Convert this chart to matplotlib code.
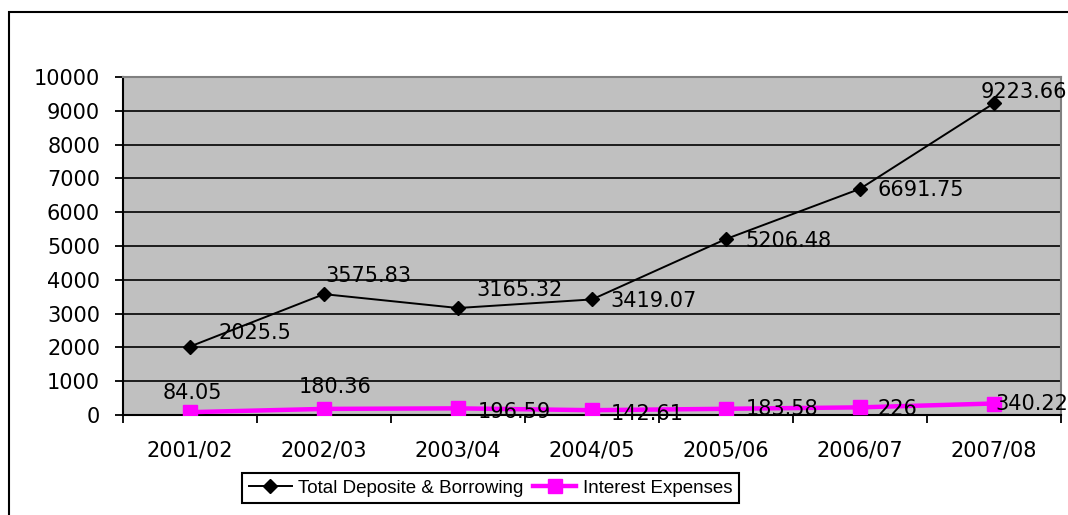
import numpy as np
import matplotlib
matplotlib.use("Agg")
import matplotlib.pyplot as plt
from matplotlib.patches import Rectangle

# data
years = ["2001/02", "2002/03", "2003/04", "2004/05", "2005/06", "2006/07", "2007/08"]
deposits = [2025.5, 3575.83, 3165.32, 3419.07, 5206.48, 6691.75, 9223.66]
interest = [84.05, 180.36, 196.59, 142.61, 183.58, 226, 340.22]
deposit_labels = ["2025.5", "3575.83", "3165.32", "3419.07", "5206.48", "6691.75", "9223.66"]
interest_labels = ["84.05", "180.36", "196.59", "142.61", "183.58", "226", "340.22"]

# label offsets in pixels (dx right, dy up, to text centre)
deposit_offsets = [(65, 15), (44, 20), (62, 20), (62, 0), (62, 0), (61, 0), (30, 13)]
interest_offsets = [(2, 21), (11, 23), (56, -2), (55, -2), (56, 1), (37, 0), (38, 1)]

plt.rcParams['font.family'] = ['DejaVu Sans']

fig = plt.figure(figsize=(10.68, 5.15), dpi=100)
ax = fig.add_axes([123 / 1068, 1 - 415 / 515, (1061 - 123) / 1068, (415 - 77) / 515])
ax.set_facecolor('#C0C0C0')

x = np.arange(len(years))
ax.plot(x, deposits, color='black', lw=1.4, marker='D', ms=7.5,
        mec='black', mfc='black', label='Total Deposite & Borrowing', zorder=3)
ax.plot(x, interest, color='#FF00FF', lw=3.2, marker='s', ms=9.5,
        mec='#FF00FF', mfc='#FF00FF', label='Interest Expenses', zorder=3)

# data labels
for xi, v, txt, (dx, dy) in zip(x, deposits, deposit_labels, deposit_offsets):
    ax.annotate(txt, (xi, v), xytext=(dx, dy - 7.5), textcoords='offset pixels',
                ha='center', va='baseline', fontsize=15, color='black',
                annotation_clip=False, zorder=4)
for xi, v, txt, (dx, dy) in zip(x, interest, interest_labels, interest_offsets):
    ax.annotate(txt, (xi, v), xytext=(dx, dy - 7.5), textcoords='offset pixels',
                ha='center', va='baseline', fontsize=15, color='black',
                annotation_clip=False, zorder=4)

ax.set_xlim(-0.5, len(years) - 0.5)
ax.set_ylim(0, 10000)
ax.set_yticks(np.arange(0, 10001, 1000))
ax.yaxis.grid(True, color='black', lw=1.2)
ax.set_axisbelow(True)

ax.set_xticks(x)
ax.set_xticklabels(years)
ax.set_xticks(np.arange(-0.5, len(years), 1), minor=True)
ax.tick_params(axis='x', which='major', length=0, pad=18, labelsize=15)
ax.tick_params(axis='x', which='minor', length=6, width=1.3, direction='out')
ax.tick_params(axis='y', length=6, width=1.3, pad=10.5, labelsize=15)

for side in ['left', 'bottom']:
    ax.spines[side].set_color('black')
    ax.spines[side].set_linewidth(1.5)
for side in ['top', 'right']:
    ax.spines[side].set_color('#808080')
    ax.spines[side].set_linewidth(1.5)

# outer chart border (runs off the bottom and right of the image)
fig.patches.append(Rectangle((9 / 1068, -0.2), 1.5, 1.2 - 12 / 515,
                             transform=fig.transFigure, fill=False,
                             edgecolor='black', lw=1.5))

leg = fig.legend(loc='upper left', bbox_to_anchor=(242 / 1068, 1 - 473 / 515),
                 ncol=2, frameon=True, fancybox=False, framealpha=1,
                 edgecolor='black', borderaxespad=0, handlelength=2.3,
                 handletextpad=0.35, columnspacing=0.5, borderpad=0.35,
                 prop={'family': 'Liberation Sans', 'size': 13.5})
leg.get_frame().set_linewidth(1.5)

fig.savefig('out.png', dpi=100)
